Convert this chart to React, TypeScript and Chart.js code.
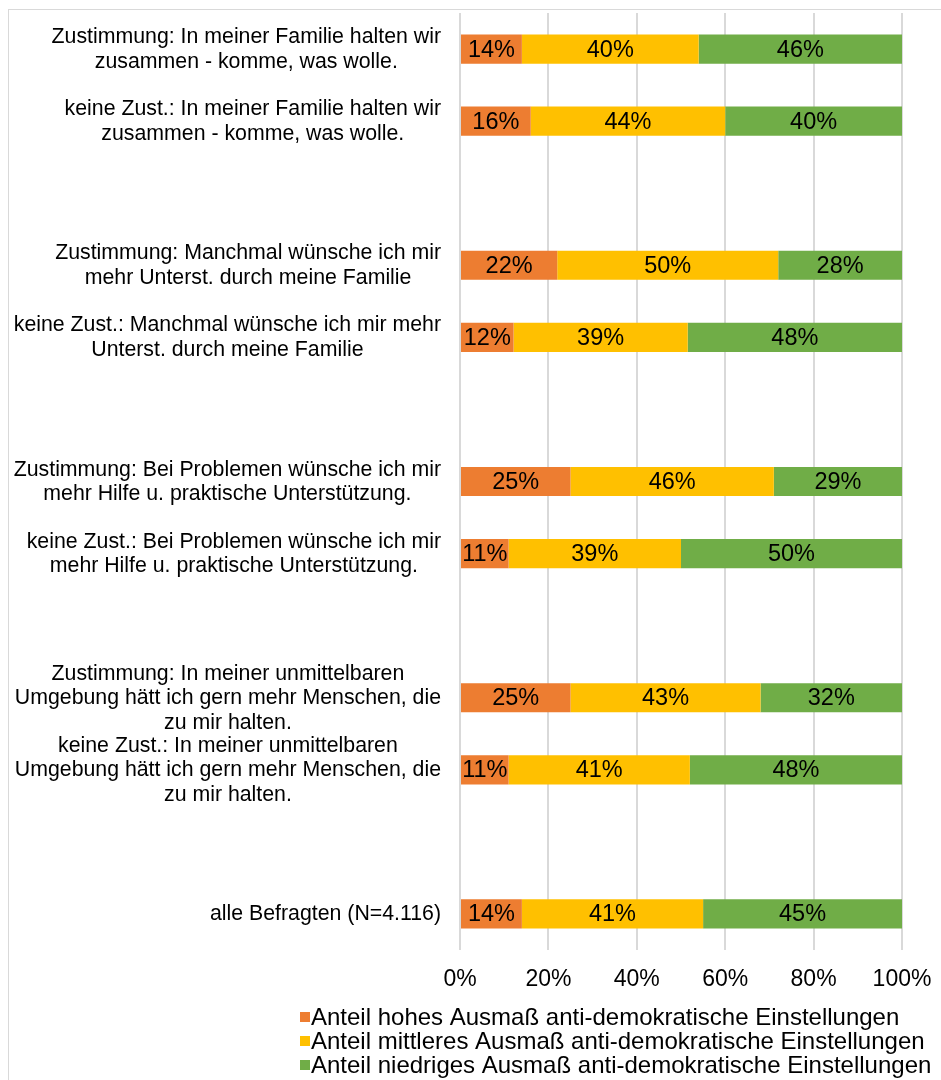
import React, { useEffect, useRef } from "react";
import { Chart, registerables } from "chart.js";

Chart.register(...registerables);

const FONT = '"Liberation Sans", Arial, Helvetica, sans-serif';

// Category labels (each an array of lines), blank entries are spacer rows
const categories: string[][] = [
  ["Zustimmung: In meiner Familie halten wir", "zusammen - komme, was wolle."],
  ["keine Zust.: In meiner Familie halten wir", "zusammen - komme, was wolle."],
  [],
  ["Zustimmung: Manchmal wünsche ich mir", "mehr Unterst. durch meine Familie"],
  ["keine Zust.: Manchmal wünsche ich mir mehr", "Unterst. durch meine Familie"],
  [],
  ["Zustimmung: Bei Problemen wünsche ich mir", "mehr Hilfe u. praktische Unterstützung."],
  ["keine Zust.: Bei Problemen wünsche ich mir", "mehr Hilfe u. praktische Unterstützung."],
  [],
  ["Zustimmung: In meiner unmittelbaren", "Umgebung hätt ich gern mehr Menschen, die", "zu mir halten."],
  ["keine Zust.: In meiner unmittelbaren", "Umgebung hätt ich gern mehr Menschen, die", "zu mir halten."],
  [],
  ["alle Befragten (N=4.116)"],
];

// Percentages per row
const hohes: (number | null)[] = [14, 16, null, 22, 12, null, 25, 11, null, 25, 11, null, 14];
const mittleres: (number | null)[] = [40, 44, null, 50, 39, null, 46, 39, null, 43, 41, null, 41];
const niedriges: (number | null)[] = [46, 40, null, 28, 48, null, 29, 50, null, 32, 48, null, 45];

const seriesNames: string[] = [
  "Anteil hohes Ausmaß anti-demokratische Einstellungen",
  "Anteil mittleres Ausmaß anti-demokratische Einstellungen",
  "Anteil niedriges Ausmaß anti-demokratische Einstellungen",
];
const seriesColors: string[] = ["#ED7D31", "#FFC000", "#70AD47"];
const xTickValues: number[] = [0, 20, 40, 60, 80, 100];

const seriesValues = [hohes, mittleres, niedriges];

// 100% stacked: each row scaled to its total
const rowTotals = categories.map((_, i) =>
  seriesValues.reduce((s, arr) => s + (arr[i] ?? 0), 0)
);
const toShare = (arr: (number | null)[]) =>
  arr.map((v, i) => (v == null ? null : (v / rowTotals[i]) * 100));

const yLabelPlugin = {
  id: "yLabelBlocks",
  afterDraw(chart: any) {
    const { ctx, chartArea } = chart;
    const yScale = chart.scales.y;
    const right = chartArea.left - 19;
    const lineH = 24.5;
    ctx.save();
    ctx.font = `21.3px ${FONT}`;
    ctx.fillStyle = "#000";
    ctx.textAlign = "center";
    ctx.textBaseline = "middle";
    categories.forEach((lines, i) => {
      if (!lines.length) return;
      const cy = yScale.getPixelForValue(i);
      const w = Math.max(...lines.map((l) => ctx.measureText(l).width));
      const cx = right - w / 2;
      lines.forEach((l, j) => {
        ctx.fillText(l, cx, cy + 0.5 + (j - (lines.length - 1) / 2) * lineH);
      });
    });
    ctx.restore();
  },
};

const dataLabelPlugin = {
  id: "segmentLabels",
  afterDatasetsDraw(chart: any) {
    const { ctx } = chart;
    ctx.save();
    ctx.font = `23.5px ${FONT}`;
    ctx.fillStyle = "#000";
    ctx.textAlign = "center";
    ctx.textBaseline = "middle";
    chart.data.datasets.forEach((_: any, di: number) => {
      const meta = chart.getDatasetMeta(di);
      meta.data.forEach((el: any, i: number) => {
        const v = seriesValues[di][i];
        if (v == null) return;
        const { x, y } = el.getCenterPoint();
        ctx.fillText(`${v}%`, x, y + 1);
      });
    });
    ctx.restore();
  },
};

const legendPlugin = {
  id: "stackedLegend",
  afterDraw(chart: any) {
    const { ctx, chartArea } = chart;
    const boxX = 291;
    const firstY = chartArea.bottom + 67;
    const rowH = 24;
    ctx.save();
    ctx.font = `24px ${FONT}`;
    ctx.textAlign = "left";
    ctx.textBaseline = "middle";
    chart.data.datasets.forEach((ds: any, i: number) => {
      const cy = firstY + i * rowH;
      ctx.fillStyle = ds.backgroundColor;
      ctx.fillRect(boxX, cy - 5, 10, 10);
      ctx.fillStyle = "#000";
      ctx.fillText(ds.label, boxX + 11, cy + 1);
    });
    ctx.restore();
  },
};

export default function App() {
  const canvasRef = useRef<HTMLCanvasElement | null>(null);

  useEffect(() => {
    if (!canvasRef.current) return;
    const chart = new Chart(canvasRef.current, {
      type: "bar",
      data: {
        labels: categories.map((c) => c.join(" ")),
        datasets: seriesValues.map((arr, i) => ({
          label: seriesNames[i],
          data: toShare(arr),
          backgroundColor: seriesColors[i],
          borderWidth: 0,
          categoryPercentage: 1,
          barPercentage: 0.405,
        })),
      },
      options: {
        indexAxis: "y",
        animation: false,
        responsive: false,
        maintainAspectRatio: false,
        layout: { padding: { left: 0, right: 39, top: 3, bottom: 80 } },
        plugins: {
          legend: { display: false },
          tooltip: { enabled: false },
        },
        scales: {
          x: {
            stacked: true,
            min: 0,
            max: 100,
            afterBuildTicks: (s: any) => {
              s.ticks = xTickValues.map((v) => ({ value: v }));
            },
            grid: { color: "#d9d9d9", lineWidth: 2, drawTicks: false },
            border: { display: false },
            ticks: {
              font: { family: FONT, size: 23 },
              color: "#000",
              padding: 16,
              callback: (v: any) => `${v}%`,
            },
            afterFit: (s: any) => {
              s.height = 50;
              s.paddingLeft = 0;
              s.paddingRight = 0;
            },
          },
          y: {
            stacked: true,
            grid: { display: false },
            border: { display: false },
            ticks: { display: false },
            afterFit: (s: any) => {
              s.width = 451;
            },
          },
        },
      },
      plugins: [yLabelPlugin, dataLabelPlugin, legendPlugin],
    });
    return () => chart.destroy();
  }, []);

  return (
    <div
      style={{
        position: "fixed",
        left: 8,
        top: 9,
        width: 960,
        height: 1100,
        borderTop: "1px solid #d9d9d9",
        borderLeft: "1px solid #d9d9d9",
        background: "#fff",
      }}
    >
      <canvas ref={canvasRef} width={932} height={1070} style={{ display: "block" }} />
    </div>
  );
}
